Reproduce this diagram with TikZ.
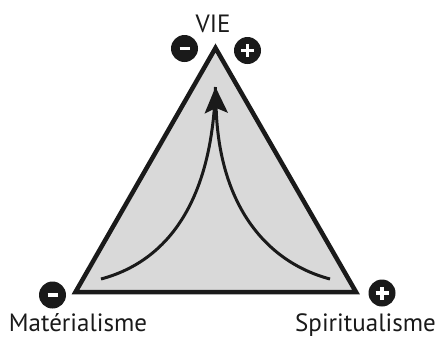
\documentclass[tikz,border=0pt]{standalone}
\usepackage{fontspec}
\setmainfont{PT Sans}
\usetikzlibrary{arrows.meta}
\definecolor{ink}{HTML}{1A1A1A}
\definecolor{facegray}{HTML}{D9D9D9}

\begin{document}
\begin{tikzpicture}[
  x=1pt,y=-1pt,
  font=\fontsize{25}{27}\selectfont,
  face/.style={draw=ink,fill=facegray,line width=4.5pt,line join=miter},
  flow/.style={draw=ink,line width=3pt},
  sgn/.style={circle,fill=ink,minimum size=27pt,inner sep=0pt},
  minus/.style={sgn,path picture={
    \draw[white,line width=3.2pt] ([xshift=-5pt]path picture bounding box.center) -- ([xshift=5pt]path picture bounding box.center);}},
  plus/.style={sgn,path picture={
    \draw[white,line width=3.2pt] ([xshift=-6.5pt]path picture bounding box.center) -- ([xshift=6.5pt]path picture bounding box.center);
    \draw[white,line width=3.2pt] ([yshift=-6.5pt]path picture bounding box.center) -- ([yshift=6.5pt]path picture bounding box.center);}},
  lbl/.style={text=ink,anchor=base,inner sep=0pt}
]
\useasboundingbox (0,0) rectangle (437,338);
% corners of the triangle
\coordinate (apex) at (215.5,48);
\coordinate (bl) at (75.5,292);
\coordinate (br) at (356,292);
\draw[face] (apex) -- (br) -- (bl) -- cycle;
% the two flows meeting at the top
\coordinate (startL) at (101,279);
\coordinate (startR) at (330,279);
\coordinate (tip) at (215.5,87);
\draw[flow] (startL) .. controls (165,262) and (212,205) .. (tip);
\draw[flow,-{Stealth[length=26pt,width=23pt,inset=5pt]}] (startR) .. controls (266,262) and (219,205) .. (tip);
% signs
\node[minus] (mtop) at (184.5,48.5) {};
\node[plus] (ptop) at (247.5,50.5) {};
\node[minus] (mleft) at (52.5,295) {};
\node[plus] (pright) at (382,293) {};
% labels
\node[lbl] (vie) at (213,32) {VIE};
\node[lbl] (mat) at (78,331) {Matérialisme};
\node[lbl] (spi) at (365.5,331) {Spiritualisme};
\end{tikzpicture}
\end{document}
